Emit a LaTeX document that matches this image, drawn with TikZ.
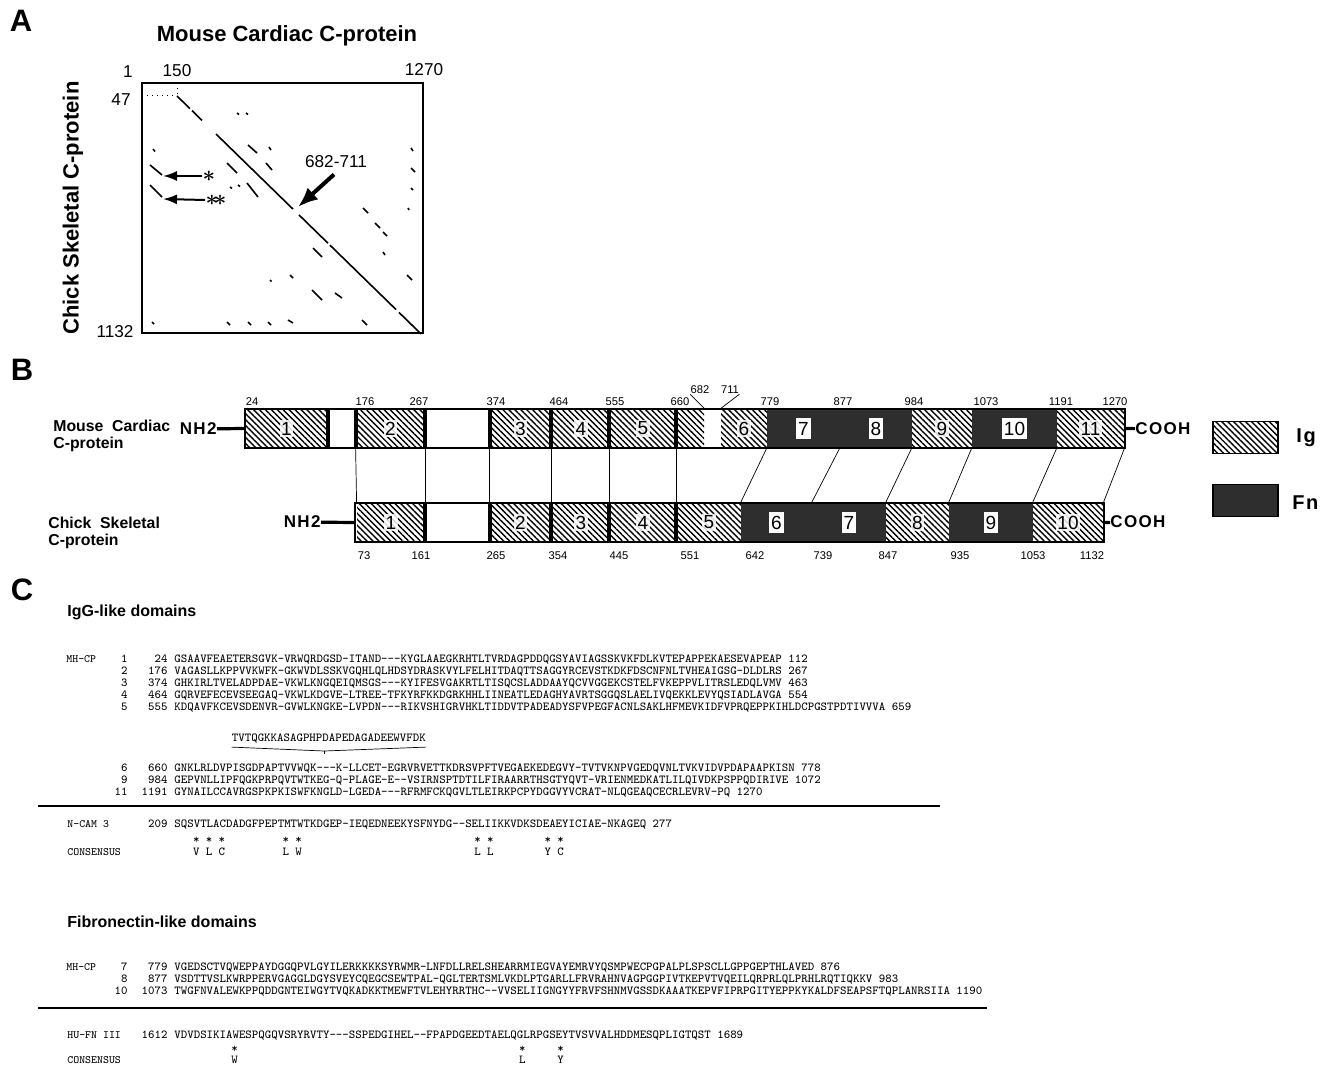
\documentclass[tikz,border=0pt]{standalone}
\usepackage{fontspec}
\setsansfont{Liberation Sans}
\usetikzlibrary{patterns.meta,arrows.meta}

% sequence grid: first residue column and residue pitch
\def\sx{174}
\def\cw{6.39}

\tikzset{
  panel/.style={font=\sffamily\bfseries\fontsize{15.5}{17}\selectfont, inner sep=0pt},
  plottitle/.style={font=\sffamily\bfseries\fontsize{11}{13}\selectfont, inner sep=0pt},
  axnum/.style={font=\sffamily\fontsize{8.6}{10}\selectfont, inner sep=0pt},
  hit/.style={line width=0.8pt},
  diag/.style={line width=0.8pt},
  starlab/.style={font=\fontsize{11}{12}\selectfont\boldmath, inner sep=0pt},
  arr/.style={line width=1pt, -{Latex[length=7pt,width=5pt]}},
  bigarr/.style={line width=2pt, -{Latex[length=10pt,width=8pt]}},
  igdom/.style={inner sep=0pt, minimum height=19.5pt, pattern={Lines[angle=-45,distance=2.1pt,line width=0.7pt]}},
  fndom/.style={inner sep=0pt, minimum height=19.5pt, fill=black!82},
  barbox/.style={draw, line width=1.2pt, inner sep=0pt, minimum height=19.5pt},
  domsep/.style={line width=2pt},
  domlink/.style={line width=0.35pt},
  leader/.style={line width=0.35pt},
  iglab/.style={font=\sffamily\fontsize{9.5}{10}\selectfont, fill=white, fill opacity=0.85, text opacity=1, inner sep=0.8pt},
  fnlab/.style={font=\sffamily\fontsize{9.5}{10}\selectfont, fill=white, inner xsep=1pt, inner ysep=1.8pt},
  posnum/.style={font=\sffamily\fontsize{5.6}{6}\selectfont, inner sep=0pt},
  protname/.style={font=\sffamily\bfseries\fontsize{7.9}{8.7}\selectfont, align=left, inner sep=0pt, anchor=west},
  termtext/.style={font=\sffamily\bfseries\fontsize{8.5}{9}\selectfont\addfontfeature{LetterSpace=8}, inner sep=0pt},
  termline/.style={line width=1.6pt},
  legtext/.style={font=\sffamily\bfseries\fontsize{10}{11}\selectfont\addfontfeature{LetterSpace=8}, inner sep=0pt, anchor=west},
  blockhead/.style={font=\sffamily\bfseries\fontsize{8}{9}\selectfont, inner sep=0pt, anchor=west},
  seqtxt/.style={font=\ttfamily\fontsize{6.086}{7}\selectfont\addfontfeature{FakeBold=1}, inner sep=0pt, anchor=base west},
  seqnum/.style={font=\ttfamily\fontsize{6.086}{7}\selectfont\addfontfeature{FakeBold=1}, inner sep=0pt, anchor=base east},
  seqlab/.style={font=\ttfamily\fontsize{5.6}{7}\selectfont\addfontfeature{FakeBold=1}, inner sep=0pt, anchor=base west},
  conschar/.style={font=\ttfamily\fontsize{6.086}{7}\selectfont\addfontfeature{FakeBold=1}, inner sep=0pt},
  seqrule/.style={line width=1.3pt},
}

\begin{document}
\begin{tikzpicture}[x=0.5pt, y=-0.5pt]
  \useasboundingbox (0,0) rectangle (1326,1065);

  %%%%% A: dot plot %%%%%
  \node[panel] (laba) at (21,21) {A};
  \node[plottitle] (xname) at (287,36) {Mouse Cardiac C-protein};
  \node[plottitle, rotate=90] (yname) at (73,208) {Chick Skeletal C-protein};
  \node[axnum] (x1) at (128,72) {1};
  \node[axnum] (x150) at (177,71) {150};
  \node[axnum] (x1270) at (424,70) {1270};
  \node[axnum] (y47) at (121,100) {47};
  \node[axnum] (y1132) at (115,332) {1132};

  \draw[line width=0.6pt] (142,83) rectangle (423,333);
  \draw[dotted, line width=0.5pt] (142,96) -- (176,96);
  \draw[dotted, line width=0.5pt] (177,83) -- (177,95);

  % main identity diagonal
  \foreach \xa/\xb in {177/190, 192/202, 216/293, 299/328, 330/396, 399/421}
    \draw[diag] (\xa,{96+(\xa-177)*0.975}) -- (\xb,{96+(\xb-177)*0.975});

  % weaker hits
  \foreach \xa/\ya/\xb/\yb in {237/113/239/114.5, 246/113/248/114.5, 248/145/257/153,
      269/147/271/150, 153/149/155/151.5, 150/165/162/175, 150/185/162/197,
      227/163/237/173, 266/163/272/170, 230/187/232/188.5, 238/185/240/186.5,
      247/183/258/197, 411/148/413/151, 411/168/415/172, 411/188/413/190,
      408/208/409/210, 363/208/368/213, 375/223/380/228, 383/232/387/236,
      383/252/385/255, 313/248/322/257, 407/275/412/280, 270/280/271.5/281.5,
      290/275/293/278, 312/290/322/300, 335/293/342/298, 152/322/154/324,
      227/322/230/325, 248/322/251/325, 268/322/271/325, 288/320/293/323,
      362/320/367/325}
    \draw[hit] (\xa,\ya) -- (\xb,\yb);

  \node[starlab] (st1) at (209,176) {$\ast$};
  \node[starlab] (st2) at (216,200) {$\ast\!\ast$};
  \coordinate (st1tip) at (163,176);
  \coordinate (st2tip) at (163,199);
  \draw[arr] (st1.west) -- (st1tip);
  \draw[arr] (st2.west) -- (st2tip);

  \node[axnum] (ovlab) at (336,162) {682-711};
  \coordinate (ovtip) at (298,207);
  \draw[bigarr] ([xshift=-1pt,yshift=-3pt]ovlab.south) -- (ovtip);

  %%%%% B: domain maps %%%%%
  \node[panel] (labb) at (22,370) {B};

  % mouse cardiac
  \foreach \n/\a/\b in {1/246/327, 2/356/425, 3/490/551, 4/553/609, 5/610/676, 9/912/972, 11/1057/1124}
    \node[igdom, minimum width={(\b-\a)*0.5pt}] (m\n) at ({(\a+\b)/2},428.5) {};
  \node[igdom, minimum width=13.5pt] (m6a) at (690.5,428.5) {};
  \node[igdom, minimum width=23pt] (m6b) at (744,428.5) {};
  \foreach \n/\a/\b in {7/767/840, 8/840/912, 10/972/1057}
    \node[fndom, minimum width={(\b-\a)*0.5pt}] (m\n) at ({(\a+\b)/2},428.5) {};
  \node[barbox, minimum width=440pt] (mbar) at (685,428.5) {};
  \foreach \n in {1,2,3,4,5}
    \draw[domsep] (m\n.north east) -- (m\n.south east);
  \draw[domsep] (m2.north west) -- (m2.south west);
  \draw[domsep] (m3.north west) -- (m3.south west);
  \foreach \n in {1,2,3,4,5,9,11}
    \node[iglab] at (m\n) {\n};
  \node[iglab] at (m6b) {6};
  \foreach \n in {7,8,10}
    \node[fnlab] at (m\n) {\n};

  % chick skeletal
  \foreach \n/\a/\b in {1/357/425, 2/490/551, 3/553/609, 4/610/676, 5/677/741, 8/886/949, 10/1033/1103}
    \node[igdom, minimum width={(\b-\a)*0.5pt}] (c\n) at ({(\a+\b)/2},522.5) {};
  \foreach \n/\a/\b in {6/741/812, 7/812/886, 9/949/1033}
    \node[fndom, minimum width={(\b-\a)*0.5pt}] (c\n) at ({(\a+\b)/2},522.5) {};
  \node[barbox, minimum width=374.5pt] (cbar) at (729.5,522.5) {};
  \foreach \n in {1,2,3,4}
    \draw[domsep] (c\n.north east) -- (c\n.south east);
  \draw[domsep] (c2.north west) -- (c2.south west);
  \foreach \n in {1,2,3,4,5,8,10}
    \node[iglab] at (c\n) {\n};
  \foreach \n in {6,7,9}
    \node[fnlab] at (c\n) {\n};

  % corresponding domain borders
  \draw[domlink] (m2.south west) -- (c1.north west);
  \draw[domlink] (m2.south east) -- (c1.north east);
  \draw[domlink] (m3.south west) -- (c2.north west);
  \draw[domlink] (m3.south east) -- (c2.north east);
  \draw[domlink] (m4.south east) -- (c3.north east);
  \draw[domlink] (m5.south east) -- (c4.north east);
  \draw[domlink] (m7.south west) -- (c6.north west);
  \draw[domlink] (m8.south west) -- (c7.north west);
  \draw[domlink] (m9.south west) -- (c8.north west);
  \draw[domlink] (m10.south west) -- (c9.north west);
  \draw[domlink] (m11.south west) -- (c10.north west);
  \draw[domlink] (m11.south east) -- (c10.north east);

  % ends
  \node[termtext, anchor=east] (nhm) at (217,429) {NH2};
  \node[termtext, anchor=west] (coohm) at (1135,429) {COOH};
  \draw[termline] (nhm) -- (mbar.west);
  \draw[termline] (mbar.east) -- (coohm);
  \node[termtext, anchor=east] (nhc) at (321,522) {NH2};
  \node[termtext, anchor=west] (coohc) at (1110,522) {COOH};
  \draw[termline] (nhc) -- (cbar.west);
  \draw[termline] (cbar.east) -- (coohc);

  \node[protname] (mname) at (53,436) {Mouse\ \ Cardiac\\C-protein};
  \node[protname] (cname) at (48,533) {Chick\ \ Skeletal\\C-protein};

  % residue numbers
  \foreach \x/\t in {252/24, 365/176, 419/267, 496/374, 559/464, 615/555, 680/660,
      770/779, 843/877, 914/984, 986/1073, 1061/1191, 1115/1270}
    \node[posnum] (mt\t) at (\x,402) {\t};
  \node[posnum] (p682) at (700,390) {682};
  \node[posnum] (p711) at (730,390) {711};
  \draw[leader] (p682.south west) -- (m6a.north east);
  \draw[leader] (p711.south east) -- (m6b.north west);
  \foreach \x/\t in {364/73, 421/161, 496/265, 558/354, 619/445, 690/551, 755/642,
      823/739, 888/847, 960/935, 1033/1053, 1092/1132}
    \node[posnum] (ct\t) at (\x,556) {\t};

  % legend
  \node[igdom, draw, line width=0.8pt, minimum width=32.5pt, minimum height=16pt] (legig) at (1245.5,437.5) {};
  \node[fndom, draw, line width=0.8pt, minimum width=32.5pt, minimum height=16pt] (legfn) at (1245.5,500.5) {};
  \node[legtext] (tig) at (1296,438) {Ig};
  \node[legtext] (tfn) at (1292,503) {Fn};

  %%%%% C: alignments %%%%%
  \node[panel] (labc) at (22,590) {C};
  \node[blockhead] (hig) at (67,612) {IgG-like domains};

  \node[seqlab] (mhig) at (66,662) {MH-CP};
  \foreach \y/\d/\s/\q in {
      662/1/24/GSAAVFEAETERSGVK-VRWQRDGSD-ITAND---KYGLAAEGKRHTLTVRDAGPDDQGSYAVIAGSSKVKFDLKVTEPAPPEKAESEVAPEAP 112,
      674/2/176/VAGASLLKPPVVKWFK-GKWVDLSSKVGQHLQLHDSYDRASKVYLFELHITDAQTTSAGGYRCEVSTKDKFDSCNFNLTVHEAIGSG-DLDLRS 267,
      686/3/374/GHKIRLTVELADPDAE-VKWLKNGQEIQMSGS---KYIFESVGAKRTLTISQCSLADDAAYQCVVGGEKCSTELFVKEPPVLITRSLEDQLVMV 463,
      698/4/464/GQRVEFECEVSEEGAQ-VKWLKDGVE-LTREE-TFKYRFKKDGRKHHLIINEATLEDAGHYAVRTSGGQSLAELIVQEKKLEVYQSIADLAVGA 554,
      710/5/555/KDQAVFKCEVSDENVR-GVWLKNGKE-LVPDN---RIKVSHIGRVHKLTIDDVTPADEADYSFVPEGFACNLSAKLHFMEVKIDFVPRQEPPKIHLDCPGSTPDTIVVVA 659,
      771/6/660/GNKLRLDVPISGDPAPTVVWQK---K-LLCET-EGRVRVETTKDRSVPFTVEGAEKEDEGVY-TVTVKNPVGEDQVNLTVKVIDVPDAPAAPKISN 778,
      783/9/984/GEPVNLLIPFQGKPRPQVTWTKEG-Q-PLAGE-E--VSIRNSPTDTILFIRAARRTHSGTYQVT-VRIENMEDKATLILQIVDKPSPPQDIRIVE 1072,
      795/11/1191/GYNAILCCAVRGSPKPKISWFKNGLD-LGEDA---RFRMFCKQGVLTLEIRKPCPYDGGVYVCRAT-NLQGEAQCECRLEVRV-PQ 1270}
  {
    \node[seqnum] (igd\d) at (128,\y) {\d};
    \node[seqnum] (igs\d) at (168,\y) {\s};
    \node[seqtxt] (igq\d) at (\sx,\y) {\q};
  }
  % insert of the cardiac isoform
  \node[seqtxt] (ins) at ({\sx+9*\cw},741) {TVTQGKKASAGPHPDAPEDAGADEEWVFDK};
  \coordinate (insat) at ({\sx+23.5*\cw},751);
  \draw[leader] ([yshift=-2pt]ins.south west) -- (insat) -- ([yshift=-2pt]ins.south east);
  \draw[leader] (insat) -- ++(0,3);

  \draw[seqrule] (38,806) -- (940,806);

  \node[seqlab] (ncam) at (67,827) {N-CAM 3};
  \node[seqnum] (ncams) at (168,827) {209};
  \node[seqtxt] (ncamq) at (\sx,827) {SQSVTLACDADGFPEPTMTWTKDGEP-IEQEDNEEKYSFNYDG--SELIIKKVDKSDEAEYICIAE-NKAGEQ 277};
  \node[seqlab] (consig) at (67,855) {CONSENSUS};
  \foreach \i/\c in {3/V, 5/L, 7/C, 17/L, 19/W, 47/L, 49/L, 58/Y, 60/C}
  {
    \node[conschar] (igst\i) at ({\sx+(\i+0.5)*\cw},840) {*};
    \node[conschar] (igcs\i) at ({\sx+(\i+0.5)*\cw},852) {\c};
  }

  \node[blockhead] (hfn) at (67,922) {Fibronectin-like domains};

  \node[seqlab] (mhfn) at (66,970) {MH-CP};
  \foreach \y/\d/\s/\q in {
      970/7/779/VGEDSCTVQWEPPAYDGGQPVLGYILERKKKKSYRWMR-LNFDLLRELSHEARRMIEGVAYEMRVYQSMPWECPGPALPLSPSCLLGPPGEPTHLAVED 876,
      982/8/877/VSDTTVSLKWRPPERVGAGGLDGYSVEYCQEGCSEWTPAL-QGLTERTSMLVKDLPTGARLLFRVRAHNVAGPGGPIVTKEPVTVQEILQRPRLQLPRHLRQTIQKKV 983,
      994/10/1073/TWGFNVALEWKPPQDDGNTEIWGYTVQKADKKTMEWFTVLEHYRRTHC--VVSELIIGNGYYFRVFSHNMVGSSDKAAATKEPVFIPRPGITYEPPKYKALDFSEAPSFTQPLANRSIIA 1190}
  {
    \node[seqnum] (fnd\d) at (128,\y) {\d};
    \node[seqnum] (fns\d) at (168,\y) {\s};
    \node[seqtxt] (fnq\d) at (\sx,\y) {\q};
  }

  \draw[seqrule] (38,1008) -- (987,1008);

  \node[seqlab] (hufn) at (67,1038) {HU-FN III};
  \node[seqnum] (hufns) at (168,1038) {1612};
  \node[seqtxt] (hufnq) at (\sx,1038) {VDVDSIKIAWESPQGQVSRYRVTY---SSPEDGIHEL--FPAPDGEEDTAELQGLRPGSEYTVSVVALHDDMESQPLIGTQST 1689};
  \node[seqlab] (consfn) at (67,1063) {CONSENSUS};
  \foreach \i/\c in {9/W, 54/L, 60/Y}
  {
    \node[conschar] (fnst\i) at ({\sx+(\i+0.5)*\cw},1049) {*};
    \node[conschar] (fncs\i) at ({\sx+(\i+0.5)*\cw},1060) {\c};
  }
\end{tikzpicture}
\end{document}
